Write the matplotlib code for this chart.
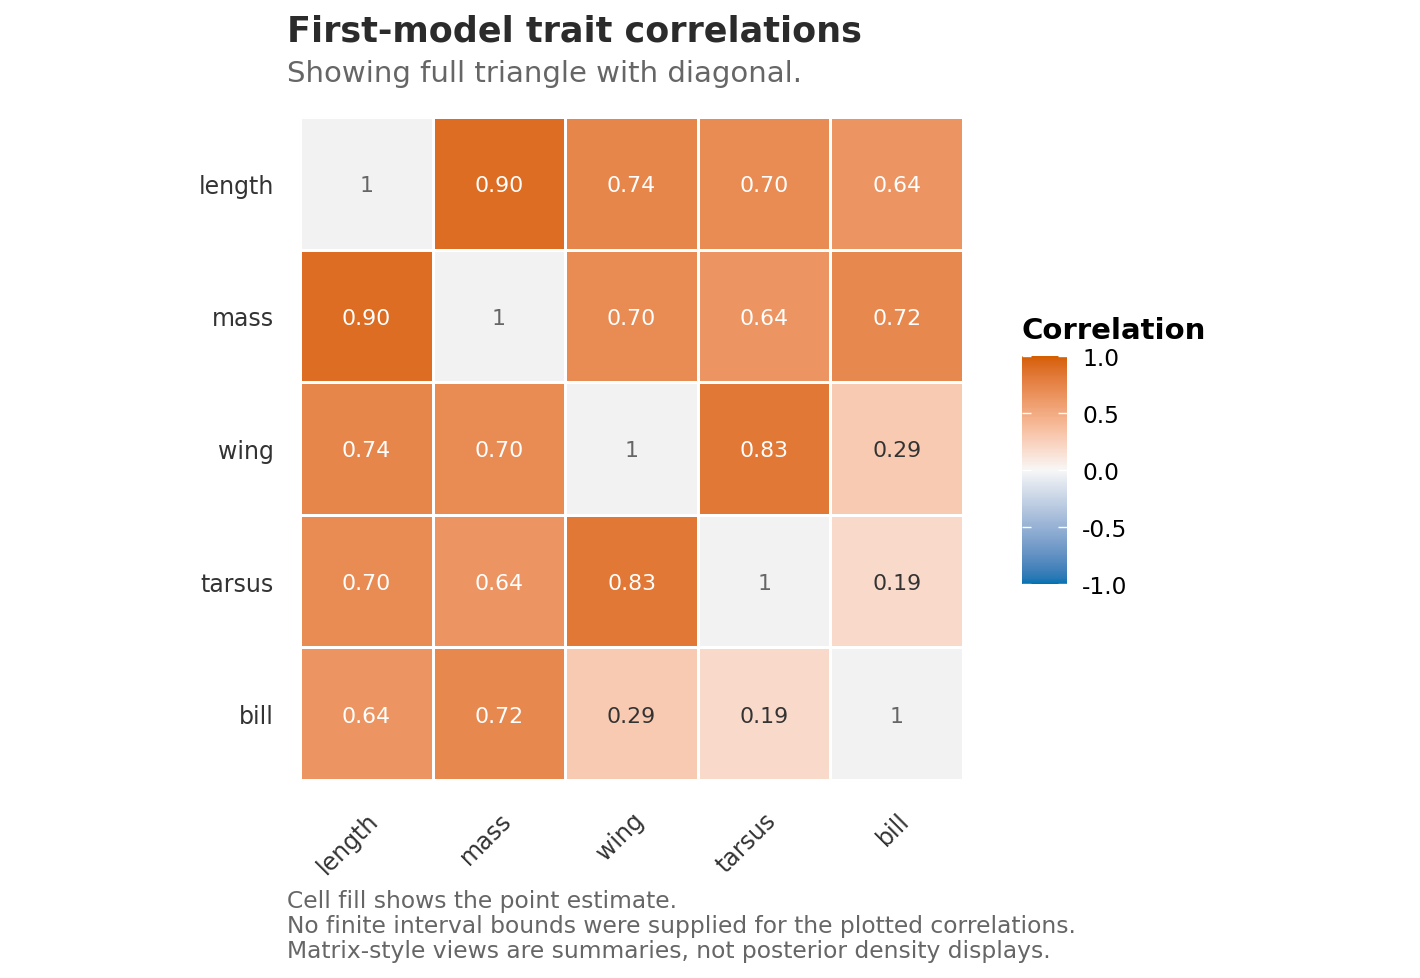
import numpy as np
import matplotlib
matplotlib.use("Agg")
import matplotlib.pyplot as plt
from matplotlib.colors import ListedColormap, to_rgb

plt.rcParams["font.family"] = ["DejaVu Sans"]

traits = ["length", "mass", "wing", "tarsus", "bill"]
corr = np.array([
    [1.00, 0.90, 0.74, 0.70, 0.64],
    [0.90, 1.00, 0.70, 0.64, 0.72],
    [0.74, 0.70, 1.00, 0.83, 0.29],
    [0.70, 0.64, 0.83, 1.00, 0.19],
    [0.64, 0.72, 0.29, 0.19, 1.00],
])
title = "First-model trait correlations"
subtitle = "Showing full triangle with diagonal."
caption_lines = ["Cell fill shows the point estimate.",
                 "No finite interval bounds were supplied for the plotted correlations.",
                 "Matrix-style views are summaries, not posterior density displays."]
low_col, mid_col, high_col = "#0072B2", "#F7F7F7", "#D55E00"


# lab interpolation, like ggplot's gradient2
def srgb_to_lab(c):
    c = np.asarray(c, float)
    lin = np.where(c <= 0.04045, c / 12.92, ((c + 0.055) / 1.055) ** 2.4)
    M = np.array([[0.4124, 0.3576, 0.1805],
                  [0.2126, 0.7152, 0.0722],
                  [0.0193, 0.1192, 0.9505]])
    xyz = M @ lin / np.array([0.95047, 1.0, 1.08883])
    f = np.where(xyz > 0.008856, np.cbrt(xyz), 7.787 * xyz + 16 / 116)
    return np.array([116 * f[1] - 16, 500 * (f[0] - f[1]), 200 * (f[1] - f[2])])


def lab_to_srgb(lab):
    L, a, b = lab
    fy = (L + 16) / 116
    fx = fy + a / 500
    fz = fy - b / 200
    f = np.array([fx, fy, fz])
    xyz = np.where(f ** 3 > 0.008856, f ** 3, (f - 16 / 116) / 7.787)
    xyz = xyz * np.array([0.95047, 1.0, 1.08883])
    Minv = np.array([[3.2406, -1.5372, -0.4986],
                     [-0.9689, 1.8758, 0.0415],
                     [0.0557, -0.2040, 1.0570]])
    lin = Minv @ xyz
    c = np.where(lin <= 0.0031308, 12.92 * lin, 1.055 * np.clip(lin, 0, None) ** (1 / 2.4) - 0.055)
    return np.clip(c, 0, 1)


lo, mi, hi = (srgb_to_lab(to_rgb(c)) for c in (low_col, mid_col, high_col))
cols = []
for t in np.linspace(-1, 1, 256):
    if t < 0:
        lab = mi + (lo - mi) * (-t)
    else:
        lab = mi + (hi - mi) * t
    cols.append(lab_to_srgb(lab))
cmap = ListedColormap(cols)
cmap.set_bad("#F2F2F2")

n = len(traits)
masked = np.ma.masked_where(np.eye(n, dtype=bool), corr)

fig = plt.figure(figsize=(14.2, 9.79), dpi=100)
ax = fig.add_axes([0.2113, 0.2023, 0.4669, 0.6772])
mesh = ax.pcolormesh(np.arange(n + 1), np.arange(n + 1), masked, cmap=cmap,
                     vmin=-1, vmax=1, edgecolors="white", linewidth=2)
ax.set_xlim(0, n)
ax.set_ylim(n, 0)
for i in range(n):
    for j in range(n):
        v = corr[i, j]
        if i == j:
            s, c = "1", "#666666"
        else:
            s = "%.2f" % v
            c = "white" if abs(v) >= 0.5 else "#333333"
        ax.text(j + 0.5, i + 0.5, s, ha="center", va="center_baseline", fontsize=15.8, color=c)

ax.set_xticks(np.arange(n) + 0.5)
ax.set_yticks(np.arange(n) + 0.5)
ax.set_xticklabels(traits, rotation=45, ha="right", va="top", rotation_mode="anchor",
                   fontsize=17, color="#333333")
ax.set_yticklabels(traits, fontsize=17, color="#333333")
ax.tick_params(length=0, pad=19)
ax.tick_params(axis="x", pad=20)
for sp in ax.spines.values():
    sp.set_visible(False)

cax = fig.add_axes([0.7197, 0.4025, 0.0317, 0.2329])
cb = fig.colorbar(mesh, cax=cax, ticks=[-1, -0.5, 0, 0.5, 1])
cb.outline.set_visible(False)
cb.ax.set_yticklabels(["-1.0", "-0.5", "0.0", "0.5", "1.0"])
cb.ax.tick_params(direction="in", color="white", length=6.5, width=1,
                  left=True, right=True, labelsize=16.8, pad=11)
fig.text(0.7197, 1 - 339 / 979, "Correlation", fontsize=21, fontweight="bold",
         ha="left", va="baseline")

fig.text(0.2021, 1 - 41 / 979, title, fontsize=25.2, fontweight="bold", color="#2b2b2b",
         ha="left", va="baseline")
fig.text(0.2021, 1 - 82 / 979, subtitle, fontsize=21, color="#666666",
         ha="left", va="baseline")
for k, line in enumerate(caption_lines):
    fig.text(0.2021, 1 - (908 + 25 * k) / 979, line, fontsize=16.8, color="#666666",
             ha="left", va="baseline")

fig.savefig("out.png", dpi=100)
